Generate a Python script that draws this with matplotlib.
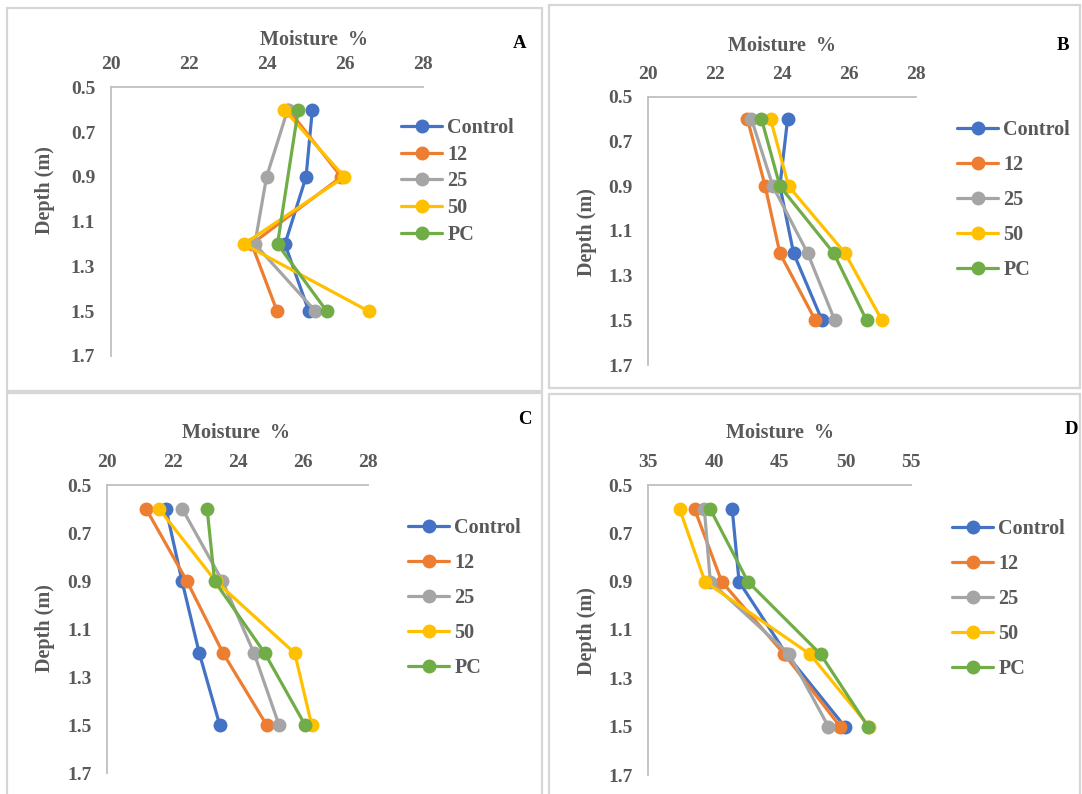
import numpy as np
import matplotlib
matplotlib.use("Agg")
import matplotlib.pyplot as plt
from matplotlib.patches import Rectangle

plt.rcParams["font.family"] = ["Liberation Serif", "DejaVu Serif"]
plt.rcParams["font.weight"] = "bold"

W, H = 1082, 794

DEPTH = [0.6, 0.9, 1.2, 1.5]
SERIES = ["Control", "12", "25", "50", "PC"]
COLORS = ["#4472C4", "#ED7D31", "#A5A5A5", "#FFC000", "#70AD47"]

# moisture (%) per series, rows follow SERIES, columns follow DEPTH
MOIST_A = [
    [25.16, 25.00, 24.46, 25.07],
    [24.55, 25.90, 23.61, 24.26],
    [24.53, 23.99, 23.69, 25.24],
    [24.44, 25.98, 23.41, 26.60],
    [24.80, np.nan, 24.27, 25.53],
]
MOIST_B = [
    [24.17, 23.94, 24.35, 25.20],
    [22.97, 23.50, 23.94, 25.00],
    [23.09, 23.73, 24.77, 25.58],
    [23.66, 24.20, 25.89, 26.99],
    [23.39, 23.94, 25.55, 26.53],
]
MOIST_C = [
    [21.80, 22.29, 22.82, 23.45],
    [21.19, 22.44, 23.55, 24.89],
    [22.30, 23.53, 24.50, 25.27],
    [21.59, 23.32, 25.75, 26.27],
    [23.06, 23.29, 24.83, 26.07],
]
MOIST_D = [
    [41.38, 41.90, 45.50, 49.95],
    [38.52, 40.58, 45.34, 49.60],
    [39.26, 39.71, 45.71, 48.70],
    [37.38, 39.31, 47.30, 51.80],
    [39.71, 42.57, 48.10, 51.72],
]

X_TICKS_20 = [20, 22, 24, 26, 28]
X_TICKS_35 = [35, 40, 45, 50, 55]
Y_TICKS = [0.5, 0.7, 0.9, 1.1, 1.3, 1.5, 1.7]

GRAY_TXT = "#595959"
AXIS_CLR = "#BFBFBF"


def fx(px):
    return px / W


def fy(py):
    return 1 - py / H


fig = plt.figure(figsize=(W / 100, H / 100), dpi=100)

# panel frames (pixel boxes: x0, y0, x1, y1)
for x0, y0, x1, y1 in [(7, 8, 542, 391), (549, 5, 1080, 388),
                       (7, 393, 542, 800), (549, 394, 1080, 800)]:
    fig.patches.append(Rectangle((fx(x0), fy(y1)), fx(x1 - x0), (y1 - y0) / H,
                                 transform=fig.transFigure, fill=False,
                                 edgecolor="#D6D6D6", lw=1.6))

panels = [
    # data, xticks, plot box (left, right, top, bottom), title xy, ylabel xy,
    # letter, letter xy, legend anchor, legend spacing
    (MOIST_A, X_TICKS_20, (110.5, 423.4, 87.3, 356), (314, 40), (45, 190),
     "A", (520, 43), (401, 118), 0.33),
    (MOIST_B, X_TICKS_20, (648.1, 915.7, 96.7, 365), (782, 46), (587, 232),
     "B", (1063, 45), (957, 120), 0.74),
    (MOIST_C, X_TICKS_20, (107.4, 368.1, 485, 773.3), (236, 433), (45, 628),
     "C", (525, 419), (408, 518), 0.74),
    (MOIST_D, X_TICKS_35, (648.4, 911.2, 485, 775), (780, 433), (587, 631),
     "D", (1071, 430), (952, 519), 0.74),
]

for data, xt, box, t_xy, yl_xy, letter, l_xy, leg_xy, spacing in panels:
    left, right, top, bottom = box
    ax = fig.add_axes([fx(left), fy(bottom), fx(right - left), (bottom - top) / H])
    depth = np.array(DEPTH)
    for name, vals, col in zip(SERIES, data, COLORS):
        vals = np.array(vals, dtype=float)
        ok = ~np.isnan(vals)
        ax.plot(vals[ok], depth[ok], "-o", color=col, lw=2.3, ms=9,
                label=name, solid_capstyle="round")
    ax.set_xlim(xt[0], xt[-1])
    ax.set_ylim(1.7, 0.5)
    ax.set_xticks(xt)
    ax.set_yticks(Y_TICKS)
    ax.set_yticklabels([f"{v:.1f}" for v in Y_TICKS])
    ax.xaxis.tick_top()
    ax.tick_params(axis="x", length=0, pad=10, labelsize=14, labelcolor=GRAY_TXT)
    ax.tick_params(axis="y", length=0, pad=11, labelsize=14, labelcolor=GRAY_TXT)
    for s in ["right", "bottom"]:
        ax.spines[s].set_visible(False)
    for s in ["top", "left"]:
        ax.spines[s].set_color(AXIS_CLR)
        ax.spines[s].set_linewidth(1.3)
    ax.patch.set_alpha(0)

    fig.text(fx(t_xy[0]), fy(t_xy[1]), "Moisture  %", ha="center", va="center",
             fontsize=14.5, color=GRAY_TXT)
    fig.text(fx(yl_xy[0]), fy(yl_xy[1]), "Depth (m)", ha="center", va="center",
             rotation=90, fontsize=14.5, color=GRAY_TXT)
    fig.text(fx(l_xy[0]), fy(l_xy[1]), letter, ha="center", va="center",
             fontsize=13.5, color="black")

    leg = ax.legend(loc="upper left", bbox_to_anchor=(fx(leg_xy[0]), fy(leg_xy[1])),
                    bbox_transform=fig.transFigure, frameon=False, fontsize=14.5,
                    handlelength=2.05, handletextpad=0.25, labelspacing=spacing,
                    borderpad=0, borderaxespad=0)
    for t in leg.get_texts():
        t.set_color(GRAY_TXT)

fig.savefig("out.png", dpi=100)
